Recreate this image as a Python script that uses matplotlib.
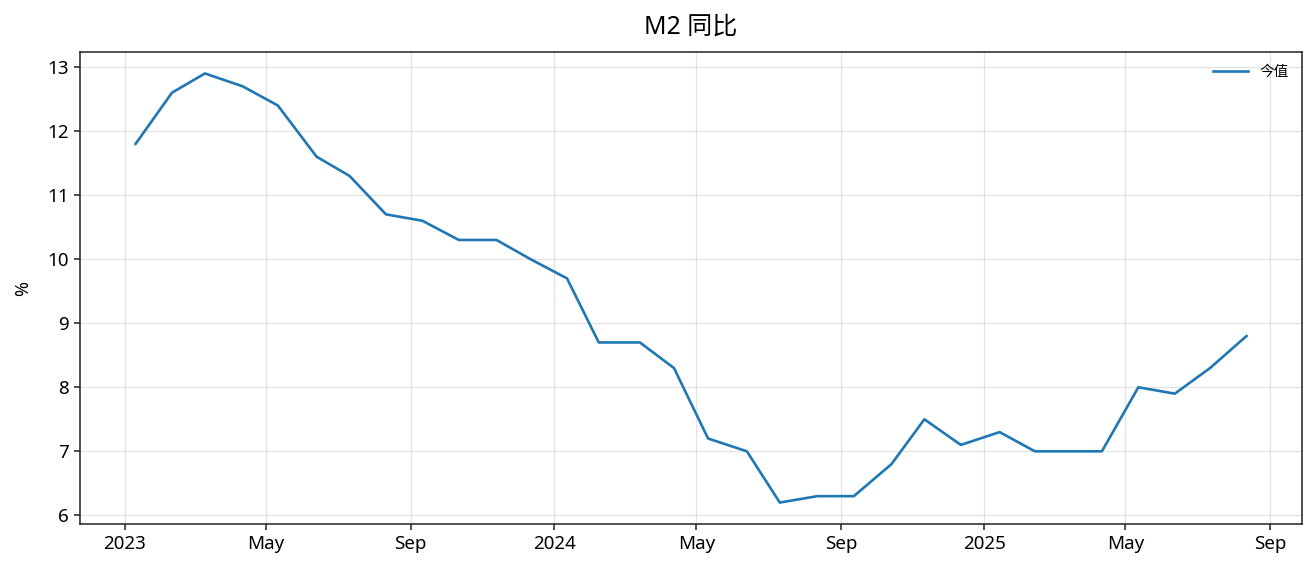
import matplotlib
matplotlib.use("Agg")
import matplotlib.pyplot as plt
import matplotlib.dates as mdates
import pandas as pd

plt.rcParams['font.family'] = ['Noto Sans', 'Noto Sans CJK SC', 'DejaVu Sans']

# release dates and M2 yoy values (%)
dates = pd.to_datetime([
    "2023-01-10", "2023-02-10", "2023-03-10", "2023-04-11", "2023-05-11",
    "2023-06-13", "2023-07-11", "2023-08-11", "2023-09-11", "2023-10-12",
    "2023-11-13", "2023-12-12", "2024-01-12", "2024-02-08", "2024-03-14",
    "2024-04-12", "2024-05-11", "2024-06-13", "2024-07-11", "2024-08-12",
    "2024-09-12", "2024-10-14", "2024-11-11", "2024-12-12", "2025-01-14",
    "2025-02-13", "2025-03-13", "2025-04-11", "2025-05-12", "2025-06-12",
    "2025-07-12", "2025-08-12",
])
m2_yoy = [11.8, 12.6, 12.9, 12.7, 12.4, 11.6, 11.3, 10.7, 10.6, 10.3,
          10.3, 10.0, 9.7, 8.7, 8.7, 8.3, 7.2, 7.0, 6.2, 6.3,
          6.3, 6.8, 7.5, 7.1, 7.3, 7.0, 7.0, 7.0, 8.0, 7.9,
          8.3, 8.8]

fig = plt.figure(figsize=(13.16, 5.74), dpi=100)
ax = fig.add_axes([0.0608, 0.0871, 0.9286, 0.8223])

ax.plot(dates, m2_yoy, color='#1f77b4', linewidth=1.9, label='今值')

ax.xaxis.set_major_locator(mdates.MonthLocator(bymonth=[1, 5, 9]))
ax.xaxis.set_major_formatter(mdates.ConciseDateFormatter(ax.xaxis.get_major_locator()))

ax.grid(True, color='#cccccc', alpha=0.55, linewidth=0.9)
ax.set_ylabel('%', fontsize=13, labelpad=11)
ax.tick_params(labelsize=13.5, length=4.5, width=1.1, color='#222222')
for s in ax.spines.values():
    s.set_color('#222222')
    s.set_linewidth(1.1)
ax.set_title('M2 同比', fontsize=18, pad=13)
ax.legend(loc='upper right', frameon=False, fontsize=10.5, handlelength=2.4)

fig.savefig('out.png', dpi=100)
